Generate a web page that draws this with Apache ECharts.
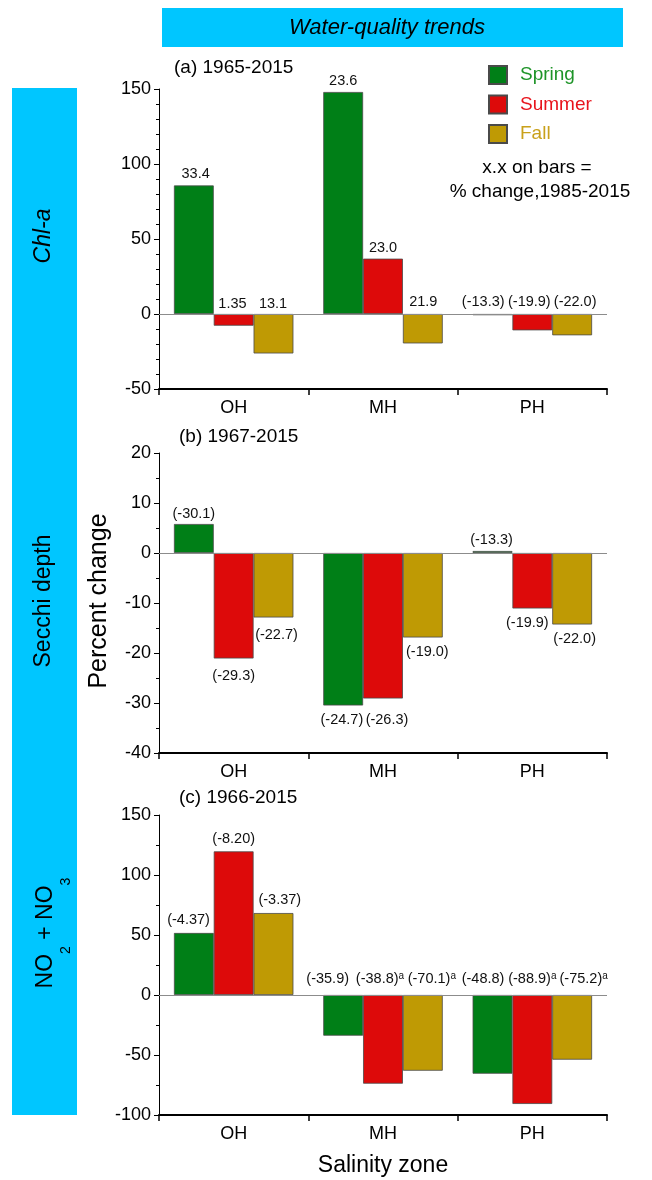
<!DOCTYPE html>
<html><head><meta charset="utf-8">
<script src="https://cdn.jsdelivr.net/npm/echarts@6/dist/echarts.min.js"></script>
<style>html,body{margin:0;padding:0;background:#fff}#c{width:652px;height:1180px}</style>
</head><body><div id="c"></div>
<script>
// ---------------- DATA ----------------
const zones = ['OH', 'MH', 'PH'];
const seasons = ['Spring', 'Summer', 'Fall'];

// (a) Chl-a, percent change 1965-2015
const chlSpring = [85.7, 148.0, -0.8];
const chlSummer = [-7.8, 36.9, -10.9];
const chlFall   = [-26.3, -19.6, -14.2];
const chlLabelSpring = ['33.4', '23.6', '(-13.3)'];
const chlLabelSummer = ['1.35', '23.0', '(-19.9)'];
const chlLabelFall   = ['13.1', '21.9', '(-22.0)'];

// (b) Secchi depth, percent change 1967-2015
const secSpring = [5.8, -30.5, 0.4];
const secSummer = [-21.1, -29.1, -11.1];
const secFall   = [-12.9, -16.9, -14.3];
const secLabelSpring = ['(-30.1)', '(-24.7)', '(-13.3)'];
const secLabelSummer = ['(-29.3)', '(-26.3)', '(-19.9)'];
const secLabelFall   = ['(-22.7)', '(-19.0)', '(-22.0)'];

// (c) NO2 + NO3, percent change 1966-2015
const noSpring = [51.7, -33.9, -65.6];
const noSummer = [119.7, -73.9, -90.8];
const noFall   = [68.3, -63.1, -53.9];
const noLabelSpring = ['(-4.37)', '(-35.9)', '(-48.8)'];
const noLabelSummer = ['(-8.20)', '(-38.8)', '(-88.9)'];
const noLabelFall   = ['(-3.37)', '(-70.1)', '(-75.2)'];
const noNoteSpring = ['', '', ''];
const noNoteSummer = ['', 'a', 'a'];
const noNoteFall   = ['', 'a', 'a'];

// axis ranges / ticks
const yMin = [-50, -40, -100];
const yMax = [150, 20, 150];
const yStep = [50, 10, 50];
const yMinorSplit = [5, 2, 2];
const panelTitles = ['(a) 1965-2015', '(b) 1967-2015', '(c) 1966-2015'];

// ---------------- STYLE ----------------
const FONT = '"Liberation Sans", Arial, Helvetica, sans-serif';
const barColors = ['#007F17', '#DD0A0A', '#BF9A04'];
const legendTextColors = ['#1E9428', '#E8141C', '#C9A11B'];
const gridTops = [89, 453, 815];

const panelValues = [[chlSpring, chlSummer, chlFall], [secSpring, secSummer, secFall], [noSpring, noSummer, noFall]];
const panelLabels = [[chlLabelSpring, chlLabelSummer, chlLabelFall], [secLabelSpring, secLabelSummer, secLabelFall], [noLabelSpring, noLabelSummer, noLabelFall]];
const panelNotes = [null, null, [noNoteSpring, noNoteSummer, noNoteFall]];

// label placement (style only)
const labelPos = [
  [['top','top','top'], ['top','top','top'], ['top','top','top']],
  [['top','bottom','top'], ['bottom','bottom','bottom'], ['bottom','bottom','bottom']],
  [['top','top','top'], ['top','top','top'], ['top','top','top']]
];
const labelDist = [
  [[4,4,5], [2.5,3,5], [2.5,5,5]],
  [[3,7,3.5], [10,14,7], [10,7,6.5]],
  [[5,9,9], [5,9,9], [6,9,9]]
];
const labelShift = [
  [[1.8,0,-9.3], [-1.2,0,-3], [-0.5,0.5,3]],
  [[0,-1.3,-1], [0,4,-5], [3,4.5,2.5]],
  [[-5.3,-15.5,-9.5], [0,-3,0], [6.3,9,11.5]]
];

const grids = gridTops.map(t => ({left: 159, top: t, width: 448, height: 300, outerBoundsMode: 'none', containLabel: false}));

const xAxes = gridTops.map((t, i) => ({
  type: 'category', gridIndex: i, data: zones, position: 'bottom',
  axisLine: {onZero: false, lineStyle: {color: '#000', width: 2}},
  axisTick: {show: true, length: 6, lineStyle: {color: '#000', width: 1.5}},
  axisLabel: {fontSize: 18, color: '#000', margin: 10, fontFamily: FONT},
  splitLine: {show: false}
}));

const yAxes = gridTops.map((t, i) => ({
  type: 'value', gridIndex: i, min: yMin[i], max: yMax[i], interval: yStep[i],
  axisLine: {show: true, lineStyle: {color: '#000', width: 1}},
  axisTick: {show: true, length: 5, lineStyle: {color: '#000', width: 1}},
  minorTick: {show: true, splitNumber: yMinorSplit[i], length: 3, lineStyle: {color: '#000', width: 1}},
  splitLine: {show: false},
  minorSplitLine: {show: false},
  axisLabel: {fontSize: 18, color: '#000', margin: 8, fontFamily: FONT}
}));

const series = [];
for (let p = 0; p < 3; p++) {
  for (let s = 0; s < 3; s++) {
    const vals = panelValues[p][s];
    const labs = panelLabels[p][s];
    const notes = panelNotes[p] ? panelNotes[p][s] : null;
    const item = {
      type: 'bar', name: seasons[s], xAxisIndex: p, yAxisIndex: p,
      barGap: '0%', barCategoryGap: '20%',
      itemStyle: {color: barColors[s], borderColor: '#4a4a4a', borderWidth: 0.8},
      data: vals.map((v, k) => ({value: v, label: {
        position: labelPos[p][s][k], distance: labelDist[p][s][k], offset: [labelShift[p][s][k], 0]
      }})),
      label: {
        show: true, fontFamily: FONT,
        formatter: (pr) => {
          const t = labs[pr.dataIndex];
          const n = notes ? notes[pr.dataIndex] : '';
          return n ? '{t|' + t + '}{s|' + n + '}' : '{t|' + t + '}';
        },
        rich: {
          t: {fontSize: 14.5, color: '#111', fontFamily: FONT},
          s: {fontSize: 10, color: '#111', fontFamily: FONT, verticalAlign: 'top'}
        }
      },
      emphasis: {disabled: true},
      z: 2
    };
    if (s === 0) {
      item.markLine = {
        silent: true, symbol: ['none', 'none'], label: {show: false},
        lineStyle: {color: '#8c8c8c', type: 'solid', width: 1},
        data: [{yAxis: 0}], animation: false
      };
    }
    series.push(item);
  }
}

function txt(x, y, text, size, opts) {
  opts = opts || {};
  return {
    type: 'text', x: x, y: y, rotation: opts.rot || 0, silent: true, z: 10,
    style: {
      text: text, fill: opts.color || '#000',
      font: (opts.italic ? 'italic ' : '') + size + 'px ' + FONT,
      fontSize: size, fontFamily: FONT, fontStyle: opts.italic ? 'italic' : 'normal',
      textAlign: opts.align || 'center', textVerticalAlign: 'middle',
      align: opts.align || 'center', verticalAlign: 'middle',
      rich: opts.rich
    }
  };
}

const graphics = [
  {type: 'rect', silent: true, z: 1, shape: {x: 162, y: 8, width: 461, height: 39}, style: {fill: '#00C6FF'}},
  {type: 'rect', silent: true, z: 1, shape: {x: 12, y: 88, width: 65, height: 1027}, style: {fill: '#00C6FF'}},
  txt(387, 28, 'Water-quality trends', 22, {italic: true}),
  txt(44, 236, 'Chl-a', 23, {italic: true, rot: Math.PI / 2}),
  txt(44, 601, 'Secchi depth', 23, {rot: Math.PI / 2}),
  txt(46, 933, '{n|NO}{s|2}{n| + NO}{s|3}', 23, {rot: Math.PI / 2, rich: {
    n: {fontSize: 23, fontFamily: FONT, fill: '#000', color: '#000'},
    s: {fontSize: 14, fontFamily: FONT, fill: '#000', color: '#000', padding: [40, 0, 0, 0]}
  }}),
  txt(99, 601, 'Percent change', 25, {rot: Math.PI / 2}),
  txt(383, 1166, 'Salinity zone', 23),
  txt(174, 68, panelTitles[0], 19, {align: 'left'}),
  txt(179, 437, panelTitles[1], 19, {align: 'left'}),
  txt(179, 798, panelTitles[2], 19, {align: 'left'}),
  txt(537, 168, 'x.x on bars =', 19),
  txt(540, 192, '% change,1985-2015', 19)
];

const chart = echarts.init(document.getElementById('c'), null, {renderer: 'canvas'});
chart.setOption({
  animation: false,
  backgroundColor: '#fff',
  textStyle: {fontFamily: FONT},
  grid: grids,
  xAxis: xAxes,
  yAxis: yAxes,
  legend: {
    orient: 'vertical', left: 488, top: 65, padding: 0, itemWidth: 18, itemHeight: 18, itemGap: 9.5,
    icon: 'rect', selectedMode: false,
    data: seasons.map((s, i) => ({name: s, textStyle: {color: legendTextColors[i]}})),
    textStyle: {fontSize: 19, fontFamily: FONT, lineHeight: 18, padding: [0, 0, 0, 8]}
  },
  series: series,
  graphic: graphics
});
</script>
</body></html>
